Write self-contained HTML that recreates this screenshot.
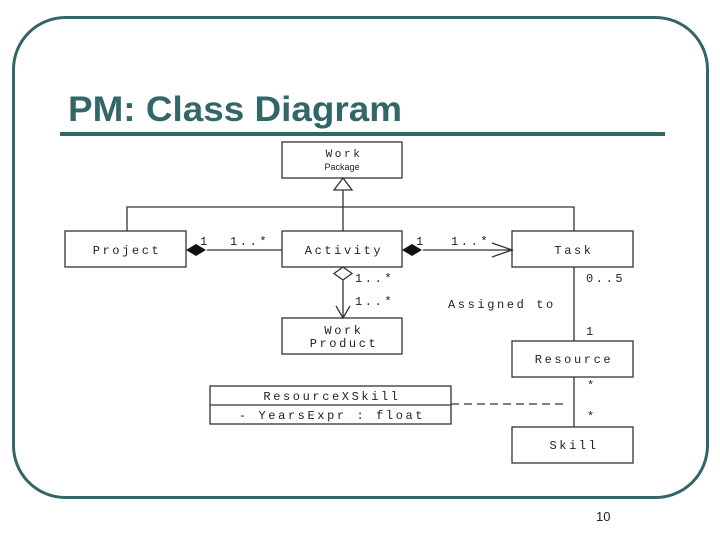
<!DOCTYPE html>
<html><head><meta charset="utf-8"><style>
html,body{margin:0;padding:0;background:#fff;}
svg{display:block;}
.m{font-family:"Liberation Mono",monospace;font-size:12px;fill:#222;letter-spacing:2.6px;}
</style></head><body>
<svg width="720" height="540" viewBox="0 0 720 540" xmlns="http://www.w3.org/2000/svg">
<rect x="13.5" y="17.5" width="694" height="480" rx="52" ry="52" fill="none" stroke="#336666" stroke-width="3"/>
<text x="68" y="121" font-family="Liberation Sans,sans-serif" font-weight="bold" font-size="35" fill="#336666" textLength="334" lengthAdjust="spacingAndGlyphs">PM: Class Diagram</text>
<rect x="60" y="132" width="605" height="4" fill="#336666"/>
<g stroke="#333" stroke-width="1.3" fill="none">
<rect x="282" y="142" width="120" height="36" fill="#fff"/>
<rect x="65" y="231" width="121" height="36" fill="#fff"/>
<rect x="282" y="231" width="120" height="36" fill="#fff"/>
<rect x="512" y="231" width="121" height="36" fill="#fff"/>
<rect x="282" y="318" width="120" height="36" fill="#fff"/>
<rect x="512" y="341" width="121" height="36" fill="#fff"/>
<rect x="512" y="427" width="121" height="36" fill="#fff"/>
<rect x="210" y="386" width="241" height="38" fill="#fff"/>
<line x1="210" y1="405" x2="451" y2="405"/>
<polyline points="127,231 127,207 574,207 574,231"/>
<line x1="343" y1="190" x2="343" y2="231"/>
<polygon points="343,178 334,190 352,190" fill="#fff"/>
<line x1="207" y1="250" x2="282" y2="250"/>
<line x1="423" y1="250" x2="512" y2="250"/>
<polyline points="492,243 512,250 492,257"/>
<line x1="343" y1="280" x2="343" y2="318"/>
<polyline points="336,306 343,318 350,306"/>
<polygon points="343,267 334,273.5 343,280 352,273.5" fill="#fff"/>
<line x1="574" y1="267" x2="574" y2="341"/>
<line x1="574" y1="377" x2="574" y2="427"/>
<line x1="451" y1="404" x2="567" y2="404" stroke-dasharray="8,5"/>
</g>
<polygon points="186,250 196,244 206,250 196,256" fill="#111"/>
<polygon points="402,250 412,244 422,250 412,256" fill="#111"/>
<g class="m" text-anchor="middle">
<text x="344" y="157" font-size="11">Work</text>
<text x="342" y="170" font-family="Liberation Sans,sans-serif" font-size="9" style="letter-spacing:0">Package</text>
<text x="127" y="254">Project</text>
<text x="344" y="254">Activity</text>
<text x="574" y="254">Task</text>
<text x="344" y="334">Work</text>
<text x="344" y="347">Product</text>
<text x="574" y="363">Resource</text>
<text x="574" y="449">Skill</text>
<text x="332" y="400">ResourceXSkill</text>
<text x="332" y="419">- YearsExpr : float</text>
</g>
<g class="m">
<text x="200" y="245" style="letter-spacing:0">1</text>
<text x="230" y="245">1..*</text>
<text x="416" y="245" style="letter-spacing:0">1</text>
<text x="451" y="245">1..*</text>
<text x="355" y="282">1..*</text>
<text x="355" y="305">1..*</text>
<text x="586" y="282">0..5</text>
<text x="448" y="308">Assigned to</text>
<text x="586" y="335">1</text>
<text x="587" y="389">*</text>
<text x="587" y="420">*</text>
</g>
<text x="596" y="521" font-family="Liberation Sans,sans-serif" font-size="13" fill="#222">10</text>
</svg>
</body></html>
